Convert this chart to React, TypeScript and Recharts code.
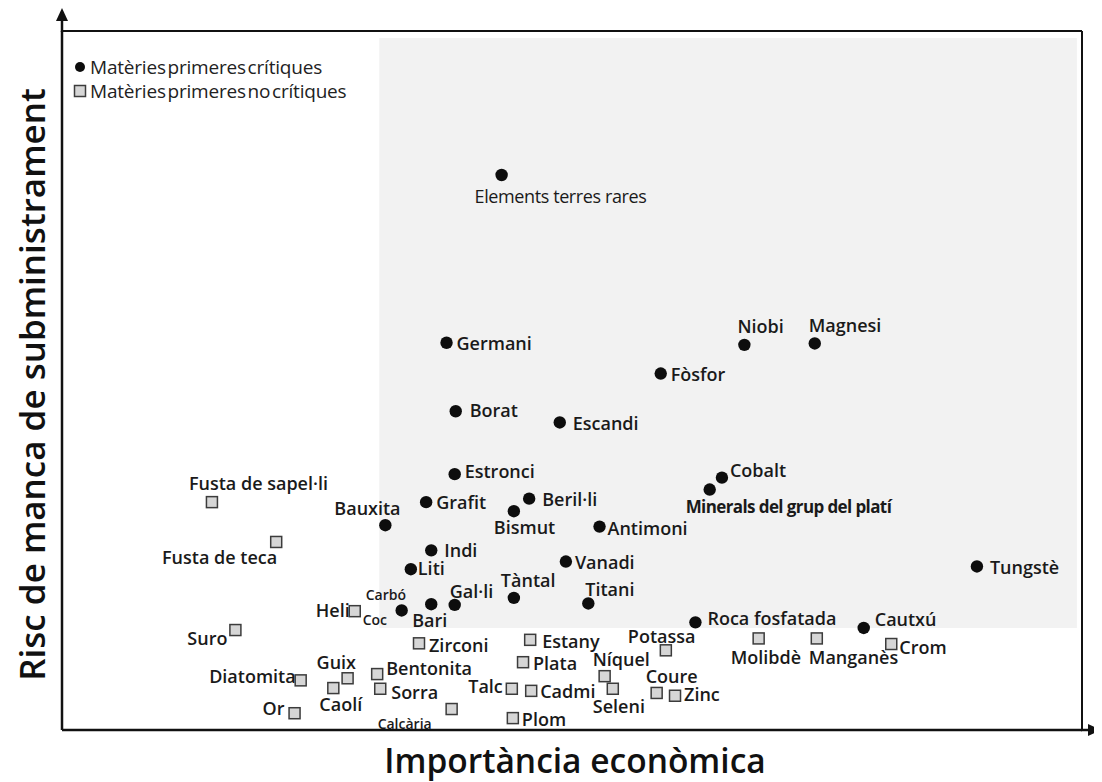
import React from 'react';
import {
  ScatterChart,
  Scatter,
  XAxis,
  YAxis,
  ReferenceArea,
  ReferenceLine,
  Legend,
} from 'recharts';

// Matèries primeres crítiques (punts negres)
const criticalNames = [
  'Elements terres rares', 'Germani', 'Niobi', 'Magnesi', 'Fòsfor', 'Borat',
  'Escandi', 'Estronci', 'Cobalt', 'Minerals del grup del platí', 'Grafit',
  'Beril·li', 'Bismut', 'Bauxita', 'Antimoni', 'Indi', 'Vanadi', 'Liti',
  'Tungstè', 'Tàntal', 'Titani', 'Carbó de coc', 'Bari', 'Gal·li',
  'Roca fosfatada', 'Cautxú',
];
const criticalX = [
  43.1, 37.7, 66.9, 73.8, 58.7, 38.6, 48.8, 38.5, 64.7, 63.5, 35.7, 45.8, 44.3,
  31.7, 52.7, 36.2, 49.4, 34.2, 89.7, 44.3, 51.6, 33.3, 36.2, 38.5, 62.1, 78.6,
];
const criticalY = [
  79.4, 55.4, 55.1, 55.3, 51.0, 45.6, 44.0, 36.6, 36.1, 34.4, 32.6, 33.1, 31.3,
  29.3, 29.1, 25.7, 24.1, 23.0, 23.4, 18.9, 18.1, 17.1, 18.0, 17.9, 15.4, 14.6,
];

// Matèries primeres no crítiques (quadrats grisos)
const nonCriticalNames = [
  'Fusta de sapel·li', 'Fusta de teca', 'Heli', 'Suro', 'Zirconi', 'Estany',
  'Potassa', 'Molibdè', 'Manganès', 'Crom', 'Plata', 'Níquel', 'Bentonita',
  'Guix', 'Diatomita', 'Caolí', 'Sorra', 'Talc', 'Cadmi', 'Seleni', 'Coure',
  'Zinc', 'Or', 'Calcària', 'Plom',
];
const nonCriticalX = [
  14.7, 21.0, 28.7, 17.0, 35.0, 45.9, 59.2, 68.3, 74.0, 81.3, 45.2, 53.2, 30.9,
  28.0, 23.4, 26.6, 31.2, 44.1, 46.0, 54.0, 58.3, 60.1, 22.8, 38.2, 44.2,
];
const nonCriticalY = [
  32.6, 26.9, 17.0, 14.3, 12.4, 12.9, 11.4, 13.1, 13.1, 12.3, 9.7, 7.7, 8.0,
  7.4, 7.1, 6.0, 5.9, 5.9, 5.6, 5.9, 5.3, 4.9, 2.4, 3.0, 1.7,
];

const legendLabels = ['Matèries primeres crítiques', 'Matèries primeres no crítiques'];
const xTitle = 'Importància econòmica';
const yTitle = 'Risc de manca de subministrament';

const criticalData = criticalNames.map((name, i) => ({ name, x: criticalX[i], y: criticalY[i] }));
const nonCriticalData = nonCriticalNames.map((name, i) => ({ name, x: nonCriticalX[i], y: nonCriticalY[i] }));

// on va cada etiqueta respecte del punt: [dx, dy, anchor, text alternatiu]
type Place = [number, number, 'start' | 'end', string?];
const labelPlace: Record<string, Place[]> = {
  'Elements terres rares': [[-27, 21, 'start']],
  Germani: [[10, 0, 'start']],
  Niobi: [[-7, -19, 'start']],
  Magnesi: [[-6, -18, 'start']],
  'Fòsfor': [[10, 0, 'start']],
  Borat: [[14, -1, 'start']],
  Escandi: [[13, 1, 'start']],
  Estronci: [[10, -3, 'start']],
  Cobalt: [[8, -8, 'start']],
  'Minerals del grup del platí': [[-24, 17, 'start']],
  Grafit: [[10, 0, 'start']],
  'Beril·li': [[13, 0, 'start']],
  Bismut: [[-20, 16, 'start']],
  Bauxita: [[-51, -17, 'start']],
  Antimoni: [[8, 1, 'start']],
  Indi: [[13, 0, 'start']],
  Vanadi: [[9, 0, 'start']],
  Liti: [[7, -1, 'start']],
  'Tungstè': [[13, 1, 'start']],
  'Tàntal': [[-13, -18, 'start']],
  Titani: [[-3, -14, 'start']],
  'Carbó de coc': [[-36, -16, 'start', 'Carbó'], [-39, 9, 'start', 'Coc']],
  Bari: [[-19, 16, 'start']],
  'Gal·li': [[-5, -14, 'start']],
  'Roca fosfatada': [[12, -4, 'start']],
  'Cautxú': [[11, -9, 'start']],
  'Fusta de sapel·li': [[-23, -19, 'start']],
  'Fusta de teca': [[1, 15, 'end']],
  Heli: [[-5, -1, 'end']],
  Suro: [[-8, 8, 'end']],
  Zirconi: [[10, 2, 'start']],
  Estany: [[12, 1, 'start']],
  Potassa: [[-38, -14, 'start']],
  'Molibdè': [[-28, 19, 'start']],
  'Manganès': [[-8, 19, 'start']],
  Crom: [[8, 3, 'start']],
  Plata: [[10, 1, 'start']],
  'Níquel': [[-12, -17, 'start']],
  Bentonita: [[9, -6, 'start']],
  Guix: [[-31, -16, 'start']],
  Diatomita: [[-5, -4, 'end']],
  'Caolí': [[-14, 16, 'start']],
  Sorra: [[11, 3, 'start']],
  Talc: [[-9, -3, 'end']],
  Cadmi: [[9, 0, 'start']],
  Seleni: [[-20, 17, 'start']],
  Coure: [[-11, -17, 'start']],
  Zinc: [[9, -2, 'start']],
  Or: [[-10, -5, 'end']],
  'Calcària': [[-74, 14, 'start']],
  Plom: [[9, 1, 'start']],
};
const small = ['Carbó', 'Coc', 'Calcària'];

const W = 1094;
const H = 774;
const font = '"Open Sans", "Noto Sans", sans-serif';

const labelStyle = (t: string): React.CSSProperties => {
  if (t === 'Elements terres rares') return { fontSize: 18, fontWeight: 500, letterSpacing: -0.4 };
  if (t === 'Minerals del grup del platí') return { fontSize: 17, fontWeight: 700, letterSpacing: -0.6 };
  if (small.includes(t)) return { fontSize: 14, fontWeight: 600, letterSpacing: 0 };
  return { fontSize: 18, fontWeight: 600, letterSpacing: 0 };
};

const PointLabel = ({ cx, cy, name }: { cx: number; cy: number; name: string }) => {
  const places = labelPlace[name] || [[8, 0, 'start']];
  return (
    <>
      {places.map(([dx, dy, anchor, text], i) => {
        const t = text || name;
        return (
          <text
            key={i}
            x={cx + dx}
            y={cy + dy}
            textAnchor={anchor}
            dominantBaseline="central"
            fill="#1a1a1a"
            style={{ fontFamily: font, ...labelStyle(t) }}
          >
            {t}
          </text>
        );
      })}
    </>
  );
};

const CircleMark = (props: any) => {
  const { cx, cy, payload } = props;
  return (
    <g>
      <circle cx={cx} cy={cy} r={6.2} fill="#0d0d0d" />
      <PointLabel cx={cx} cy={cy} name={payload.name} />
    </g>
  );
};

const SquareMark = (props: any) => {
  const { cx, cy, payload } = props;
  return (
    <g>
      <rect x={cx - 5.5} y={cy - 5.5} width={11} height={11} fill="#d6d6d6" stroke="#3c3c3c" strokeWidth={1.5} />
      <PointLabel cx={cx} cy={cy} name={payload.name} />
    </g>
  );
};

const LegendBox = () => (
  <div style={{ fontFamily: font, fontSize: 19, color: '#222', letterSpacing: -0.2, wordSpacing: -3, lineHeight: '24px' }}>
    {legendLabels.map((label, i) => (
      <div key={label} style={{ display: 'flex', alignItems: 'center', whiteSpace: 'nowrap' }}>
        <svg width={14} height={14} style={{ marginRight: 3 }}>
          {i === 0 ? (
            <circle cx={7} cy={7} r={5} fill="#0d0d0d" />
          ) : (
            <rect x={1.5} y={1.5} width={11} height={11} fill="#d6d6d6" stroke="#3c3c3c" strokeWidth={1.5} />
          )}
        </svg>
        <span>{label}</span>
      </div>
    ))}
  </div>
);

const XTitle = (props: any) => {
  const { x, width } = props.viewBox;
  return (
    <text x={x + width / 2 + 3} y={765} textAnchor="middle" fill="#111" style={{ fontFamily: font, fontSize: 33.5, fontWeight: 600 }}>
      {xTitle}
    </text>
  );
};

const YTitle = (props: any) => {
  const { y, height } = props.viewBox;
  const cy = y + height / 2 + 4;
  return (
    <text
      x={23}
      y={cy}
      transform={`rotate(-90 23 ${cy})`}
      textAnchor="middle"
      dominantBaseline="central"
      fill="#111"
      style={{ fontFamily: font, fontSize: 35, fontWeight: 600 }}
    >
      {yTitle}
    </text>
  );
};

export default function App() {
  return (
    <div style={{ position: 'relative', width: W, height: H, background: '#fff' }}>
      <ScatterChart width={W} height={H} margin={{ top: 23, right: 20, bottom: 0, left: 0 }}>
        <XAxis
          type="number"
          dataKey="x"
          domain={[0, 100]}
          height={52}
          tick={false}
          tickLine={false}
          axisLine={{ stroke: '#111', strokeWidth: 2.5 }}
          label={{ content: <XTitle /> }}
        />
        <YAxis
          type="number"
          dataKey="y"
          domain={[0, 100]}
          width={54}
          tick={false}
          tickLine={false}
          axisLine={{ stroke: '#111', strokeWidth: 2.5 }}
          label={{ content: <YTitle /> }}
        />
        <ReferenceArea x1={31.1} x2={99.5} y1={14.6} y2={99} fill="#f2f2f2" fillOpacity={1} stroke="none" />
        <ReferenceLine y={100} stroke="#111" strokeWidth={2} />
        <ReferenceLine x={100} stroke="#111" strokeWidth={2} />
        <Scatter name={legendLabels[1]} data={nonCriticalData} shape={SquareMark} isAnimationActive={false} />
        <Scatter name={legendLabels[0]} data={criticalData} shape={CircleMark} isAnimationActive={false} />
        <Legend
          layout="horizontal"
          verticalAlign="middle"
          content={<LegendBox />}
          wrapperStyle={{ top: 47, left: 65, width: 360 }}
        />
      </ScatterChart>
      <svg width={W} height={H} style={{ position: 'absolute', left: 0, top: 0, pointerEvents: 'none', overflow: 'visible' }}>
        <line x1={54} y1={24} x2={54} y2={8} stroke="#111" strokeWidth={2.5} />
        <polygon points="54,0 48,13 60,13" fill="#111" />
        <line x1={1073} y1={722} x2={1086} y2={722} stroke="#111" strokeWidth={2.5} />
        <polygon points="1093,722 1080,716 1080,728" fill="#111" />
      </svg>
    </div>
  );
}
